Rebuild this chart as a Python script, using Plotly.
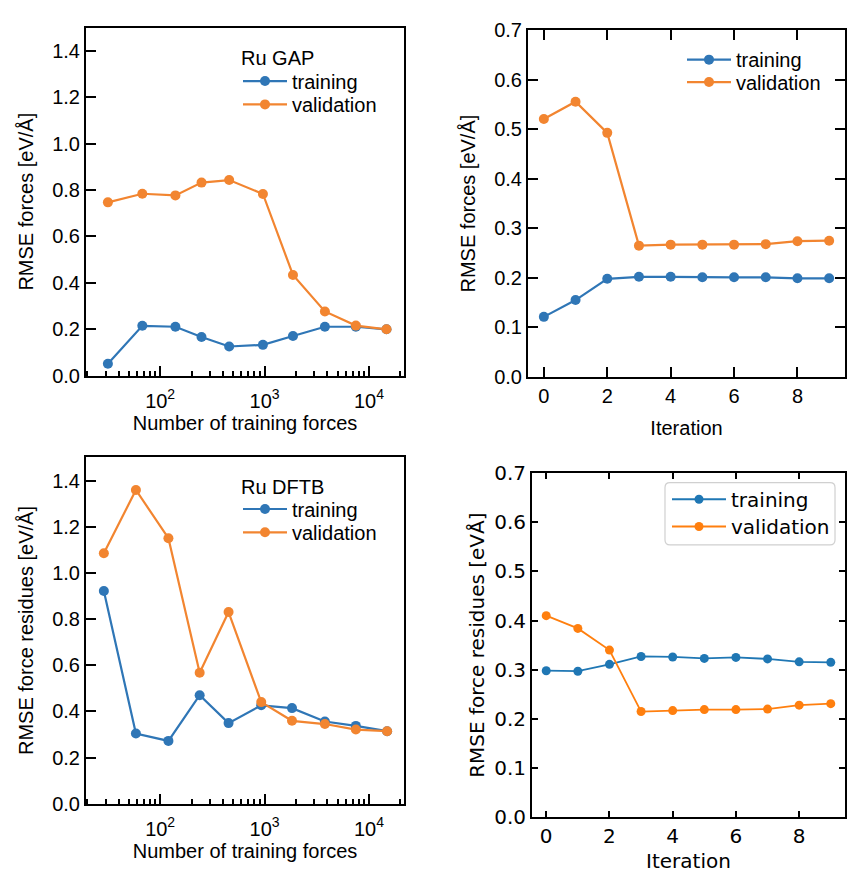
import re
import plotly.graph_objects as go

W, H = 856, 875

# ---------------- data ----------------
gap_forces = [31.6, 67.5, 140, 249, 458, 964, 1870, 3780, 7480, 14700]
gap_train = [0.052, 0.215, 0.211, 0.167, 0.126, 0.133, 0.171, 0.211, 0.211, 0.200]
gap_val = [0.747, 0.784, 0.777, 0.832, 0.843, 0.783, 0.434, 0.277, 0.216, 0.200]

iters = [0, 1, 2, 3, 4, 5, 6, 7, 8, 9]
gap_it_train = [0.121, 0.155, 0.198, 0.202, 0.202, 0.201, 0.201, 0.201, 0.199, 0.199]
gap_it_val = [0.521, 0.556, 0.493, 0.265, 0.267, 0.267, 0.267, 0.268, 0.274, 0.275]

dftb_forces = [28.9, 58.6, 120, 239, 452, 929, 1830, 3780, 7480, 14900]
dftb_train = [0.921, 0.304, 0.272, 0.470, 0.349, 0.426, 0.414, 0.356, 0.337, 0.314]
dftb_val = [1.085, 1.359, 1.150, 0.567, 0.830, 0.440, 0.359, 0.345, 0.321, 0.314]

dftb_it_train = [0.298, 0.297, 0.311, 0.327, 0.326, 0.323, 0.325, 0.322, 0.316, 0.315]
dftb_it_val = [0.410, 0.384, 0.340, 0.215, 0.217, 0.219, 0.219, 0.220, 0.228, 0.231]

log_tickvals = [100, 1000, 10000]
log_ticktext = ["10<sup>2</sup>", "10<sup>3</sup>", "10<sup>4</sup>"]
gap_yticks = [0.0, 0.2, 0.4, 0.6, 0.8, 1.0, 1.2, 1.4]
it_yticks = [0.0, 0.1, 0.2, 0.3, 0.4, 0.5, 0.6, 0.7]
it_xticks = [0, 2, 4, 6, 8]

BLUE = "#2f76b6"
ORANGE = "#f28530"
ARIAL = "Liberation Sans, Arial, sans-serif"
DEJAVU = "DejaVu Sans, sans-serif"


def px_x(v):
    return v / W


def px_y(v):
    return 1 - v / H


fig = go.Figure()

# domains from pixel boxes (x0, x1, ytop, ybottom)
boxes = {
    1: (86, 404, 16, 374),
    2: (528, 845, 19, 375),
    3: (86, 404, 458, 814),
    4: (532, 845, 474, 828),
}


def add(x, y, name, color, xa, ya, legend, msize, lw):
    fig.add_trace(go.Scatter(
        x=x, y=y, name=name, mode="lines+markers",
        line=dict(color=color, width=lw),
        marker=dict(color=color, size=msize),
        xaxis=xa, yaxis=ya, legend=legend,
    ))


add(gap_forces, gap_train, "training", BLUE, "x", "y", "legend", 10, 2.2)
add(gap_forces, gap_val, "validation", ORANGE, "x", "y", "legend2", 10, 2.2)
add(iters, gap_it_train, "training", BLUE, "x2", "y2", "legend3", 10, 2.2)
add(iters, gap_it_val, "validation", ORANGE, "x2", "y2", "legend4", 10, 2.2)
add(dftb_forces, dftb_train, "training", BLUE, "x3", "y3", "legend5", 10, 2.2)
add(dftb_forces, dftb_val, "validation", ORANGE, "x3", "y3", "legend6", 10, 2.2)
add(iters, dftb_it_train, "training", "#1f77b4", "x4", "y4", "legend7", 9, 1.8)
add(iters, dftb_it_val, "validation", "#ff7f0e", "x4", "y4", "legend8", 9, 1.8)

layout = dict(
    width=W, height=H,
    margin=dict(l=0, r=0, t=0, b=0),
    paper_bgcolor="white", plot_bgcolor="white",
    showlegend=True,
)


def xaxis_dict(i, **kw):
    x0, x1, yt, yb = boxes[i]
    d = dict(domain=[px_x(x0), px_x(x1)], anchor="y" if i == 1 else f"y{i}",
             showline=True, linecolor="black", linewidth=2,
             showgrid=False, zeroline=False, ticks="inside",
             tickcolor="black", tickwidth=2, ticklen=10)
    d.update(kw)
    return d


def yaxis_dict(i, **kw):
    x0, x1, yt, yb = boxes[i]
    d = dict(domain=[px_y(yb), px_y(yt)], anchor="x" if i == 1 else f"x{i}",
             showline=True, linecolor="black", linewidth=2,
             showgrid=False, zeroline=False, ticks="inside",
             tickcolor="black", tickwidth=2, ticklen=10)
    d.update(kw)
    return d


tf = dict(family=ARIAL, size=20, color="black")
tfd = dict(family=DEJAVU, size=20, color="black")
minor_log = dict(ticks="inside", ticklen=5, tickwidth=1.5, tickcolor="black",
                 dtick="D1", showgrid=False)

# panel 1
layout["xaxis"] = xaxis_dict(
    1, type="log", range=[1.29, 4.335], mirror=True,
    tickvals=log_tickvals, ticktext=log_ticktext, tickfont=tf,
    ticklabelstandoff=6, minor=minor_log,
    title=dict(text="Number of training forces", font=tf, standoff=4),
)
layout["yaxis"] = yaxis_dict(
    1, range=[0, 1.5], mirror=True, tickvals=gap_yticks, tickformat=".1f",
    tickfont=tf, title=dict(text="RMSE forces [eV/Å]", font=tf, standoff=13),
)
# panel 2
layout["xaxis2"] = xaxis_dict(
    2, range=[-0.5, 9.5], mirror="allticks", tickvals=it_xticks, tickfont=tf,
    title=dict(text="Iteration", font=tf, standoff=15),
)
layout["yaxis2"] = yaxis_dict(
    2, range=[0, 0.7], mirror="allticks", tickvals=it_yticks, tickformat=".1f",
    tickfont=tf, title=dict(text="RMSE forces [eV/Å]", font=tf, standoff=13),
)
# panel 3
layout["xaxis3"] = xaxis_dict(
    3, type="log", range=[1.29, 4.335], mirror=True,
    tickvals=log_tickvals, ticktext=log_ticktext, tickfont=tf,
    ticklabelstandoff=6, minor=minor_log,
    title=dict(text="Number of training forces", font=tf, standoff=4),
)
layout["yaxis3"] = yaxis_dict(
    3, range=[0, 1.5], mirror=True, tickvals=gap_yticks, tickformat=".1f",
    tickfont=tf, title=dict(text="RMSE force residues [eV/Å]", font=tf, standoff=13),
)
# panel 4
layout["xaxis4"] = xaxis_dict(
    4, range=[-0.45, 9.45], mirror="allticks", tickvals=it_xticks, tickfont=tfd,
    ticklen=6, tickwidth=1.5,
    title=dict(text="Iteration", font=tfd, standoff=7),
)
layout["yaxis4"] = yaxis_dict(
    4, range=[0, 0.7], mirror="allticks", tickvals=it_yticks, tickformat=".1f",
    ticklen=6, tickwidth=1.5,
    tickfont=tfd, title=dict(text="RMSE force residues [eVÅ]", font=tfd, standoff=4),
)

lg = dict(bgcolor="rgba(0,0,0,0)", borderwidth=0, xanchor="left", yanchor="middle",
          font=tf, itemwidth=44, tracegroupgap=0)
# per-item legends so item spacing matches the reference
layout["legend"] = dict(lg, x=px_x(238), y=px_y(71))
layout["legend2"] = dict(lg, x=px_x(238), y=px_y(95))
layout["legend3"] = dict(lg, x=px_x(682), y=px_y(49))
layout["legend4"] = dict(lg, x=px_x(682), y=px_y(72))
layout["legend5"] = dict(lg, x=px_x(238), y=px_y(511))
layout["legend6"] = dict(lg, x=px_x(238), y=px_y(535))
layout["legend7"] = dict(lg, x=px_x(667), y=px_y(501), font=tfd, itemwidth=54)
layout["legend8"] = dict(lg, x=px_x(667), y=px_y(529), font=tfd, itemwidth=54)

layout["annotations"] = [
    dict(text="Ru GAP", x=px_x(239), y=px_y(47), xref="paper", yref="paper",
         xanchor="left", yanchor="middle", showarrow=False, font=tf),
    dict(text="Ru DFTB", x=px_x(239), y=px_y(488), xref="paper", yref="paper",
         xanchor="left", yanchor="middle", showarrow=False, font=tf),
]

# rounded legend frame for panel 4 (matplotlib style)
lx0, lx1, ly0, ly1 = 665, 835, 484, 548
r = 5
path = (f"M {lx0 + r} {ly0} L {lx1 - r} {ly0} Q {lx1} {ly0} {lx1} {ly0 + r} "
        f"L {lx1} {ly1 - r} Q {lx1} {ly1} {lx1 - r} {ly1} L {lx0 + r} {ly1} "
        f"Q {lx0} {ly1} {lx0} {ly1 - r} L {lx0} {ly0 + r} Q {lx0} {ly0} {lx0 + r} {ly0} Z")
tokens = path.split()
out = []
is_x = True
for t in tokens:
    if re.match(r"^[A-Z]$", t):
        out.append(t)
        is_x = True
    else:
        v = float(t)
        out.append(f"{px_x(v):.5f}" if is_x else f"{px_y(v):.5f}")
        is_x = not is_x
layout["shapes"] = [dict(type="path", xref="paper", yref="paper", path=" ".join(out),
                         line=dict(color="#d0d0d0", width=1.2),
                         fillcolor="rgba(255,255,255,0.8)", layer="above")]

fig.update_layout(**layout)
fig.write_html("out.html")
